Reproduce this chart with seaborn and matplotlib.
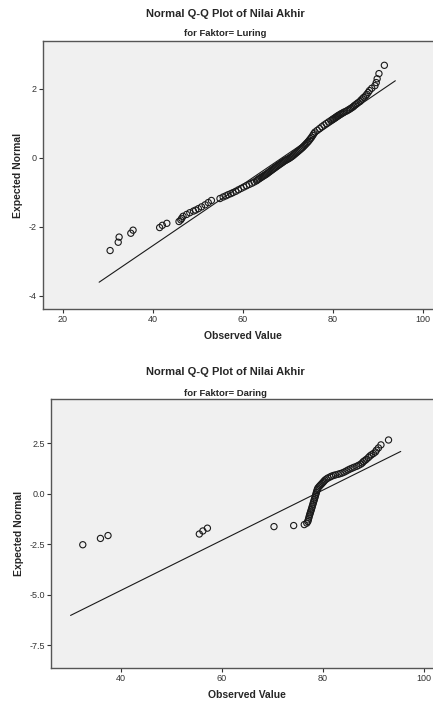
import matplotlib
matplotlib.use("Agg")
import matplotlib.pyplot as plt
import numpy as np
import pandas as pd
import seaborn as sns
from statistics import NormalDist

luring_scores = [30.5, 32.3, 32.5, 35.1, 35.6, 41.5, 42.1, 43.1, 45.8, 46.2,
                 46.4, 46.7, 47.5, 48.2, 49.0, 49.5, 50.1, 50.8, 51.6, 52.3,
                 53.0, 54.9, 55.6, 56.2, 56.7, 57.3, 57.8, 58.4, 59.0, 59.6,
                 60.2, 60.8, 61.4, 62.0, 62.5, 63.0,
                 63.25, 63.5, 63.75, 64.0, 64.25, 64.5, 64.75, 65.0, 65.25,
                 65.5, 65.75, 66.0, 66.25, 66.5, 66.75, 67.0, 67.25, 67.5, 67.75,
                 68.0, 68.25, 68.5, 68.75, 69.0, 69.25, 69.5, 69.75, 70.0, 70.25,
                 70.5, 70.75, 71.0, 71.25, 71.5, 71.75, 72.0, 72.25, 72.5, 72.75,
                 73.0, 73.25, 73.5, 73.75, 74.0, 74.25, 74.5, 74.75, 75.0, 75.25,
                 75.5, 75.75, 76.0,
                 76.5, 77.0, 77.5, 78.0, 78.5, 79.0, 79.5, 79.8,
                 80.0, 80.2, 80.4, 80.6, 80.8, 81.0, 81.2, 81.5, 81.7, 82.0,
                 82.3, 82.6, 83.0, 83.3, 83.6, 83.9, 84.2, 84.5, 84.7, 85.0,
                 85.3, 85.6, 86.0, 86.2, 86.5, 86.8, 87.2, 87.5, 87.8, 88.1,
                 88.6, 89.3, 89.6, 89.8, 90.2, 91.4]
luring_counts = [1, 1, 1, 1, 1, 1, 1, 1, 1, 1,
                 1, 2, 1, 2, 1, 1, 2, 2, 3, 3,
                 3, 3, 2, 2, 2, 2, 2, 3, 3, 3,
                 3, 3, 3, 3, 3, 3,
                 2, 2, 2, 2, 2, 2, 2, 2, 2,
                 3, 2, 3, 2, 3, 2, 3, 2, 3, 2,
                 3, 2, 3, 2, 3, 2, 2, 2, 2, 2,
                 3, 2, 3, 3, 3, 3, 3, 3, 3, 3,
                 3, 3, 4, 3, 4, 3, 4, 4, 4, 4,
                 5, 4, 4,
                 4, 4, 4, 3, 3, 3, 2, 1,
                 1, 1, 1, 1, 1, 1, 1, 1, 1, 1,
                 1, 1, 1, 1, 1, 1, 1, 1, 1, 1,
                 1, 1, 1, 1, 1, 1, 1, 1, 1, 1,
                 1, 1, 1, 1, 1, 1]

daring_scores = [32.4, 35.9, 37.4, 55.5, 56.2, 57.1, 70.3, 74.2, 76.3, 76.8,
                 77.0, 77.1, 77.2, 77.3, 77.4, 77.5, 77.6, 77.7, 77.8, 77.9,
                 78.0, 78.1, 78.2, 78.3, 78.4, 78.5, 78.6, 78.7, 78.8, 78.9,
                 79.0, 79.2, 79.4, 79.6, 79.8, 80.0, 80.2, 80.4, 80.7, 81.0,
                 81.4, 81.7, 82.1, 82.5, 83.0, 83.4, 83.8, 84.2, 84.6, 85.0,
                 85.4, 85.8, 86.2, 86.7, 87.1, 87.5, 87.8, 88.0, 88.3, 88.6,
                 89.0, 89.3, 89.6, 90.0, 90.4, 90.6, 91.0, 91.5, 93.0]
daring_counts = [2, 2, 1, 1, 4, 2, 2, 1, 2, 3,
                 3, 4, 5, 5, 5, 5, 6, 6, 7, 7,
                 8, 8, 8, 8, 9, 9, 9, 9, 8, 7,
                 6, 6, 5, 5, 5, 5, 5, 5, 4, 4,
                 3, 3, 2, 2, 2, 2, 2, 3, 3, 3,
                 2, 2, 2, 2, 2, 2, 2, 2, 1, 2,
                 2, 1, 1, 1, 1, 1, 1, 1, 1]


def qq_frame(scores, counts):
    # expected normal from mean ranks, r / (n + 1)
    counts = np.asarray(counts)
    n = counts.sum()
    before = np.concatenate([[0], np.cumsum(counts)[:-1]])
    ranks = before + (counts + 1) / 2
    z = [NormalDist().inv_cdf(r / (n + 1)) for r in ranks]
    return pd.DataFrame({"observed": scores, "expected": z})


def ref_line(scores, counts):
    values = np.repeat(scores, counts)
    mean, sd = values.mean(), values.std(ddof=1)
    lo, hi = values.min(), values.max()
    pad = 0.04 * (hi - lo)
    x = np.array([lo - pad, hi + pad])
    return pd.DataFrame({"observed": x, "expected": (x - mean) / sd})


sns.set_style("white")
plt.rcParams["font.family"] = ["Liberation Sans", "DejaVu Sans"]

W, H = 433, 702
fig = plt.figure(figsize=(W / 100, H / 100), dpi=100)


def panel(box, scores, counts, group, title_y, sub_y, xlim, ylim, xticks, yticks, yfmt):
    left, top, right, bottom = box
    ax = fig.add_axes([left / W, 1 - bottom / H, (right - left) / W, (bottom - top) / H])
    ax.set_facecolor("#f0f0f0")
    pts = qq_frame(scores, counts)
    line = ref_line(scores, counts)
    sns.lineplot(data=line, x="observed", y="expected", ax=ax, color="#1a1a1a", linewidth=0.8)
    sns.scatterplot(data=pts, x="observed", y="expected", ax=ax, s=20, facecolors="none",
                    edgecolor="#1a1a1a", linewidth=0.8, marker="o", zorder=3)
    ax.set_xlim(*xlim)
    ax.set_ylim(*ylim)
    ax.set_xticks(xticks)
    ax.set_yticks(yticks)
    ax.set_yticklabels([yfmt.format(v) for v in yticks])
    ax.tick_params(axis="both", which="major", direction="out", length=3, width=0.8,
                   labelsize=6.5, colors="#333333", pad=1.5, bottom=True, left=True)
    for side in ["left", "bottom", "top", "right"]:
        ax.spines[side].set_color("#555555")
        ax.spines[side].set_linewidth(1.0)
    ax.set_xlabel("Observed Value", fontsize=7.5, fontweight="bold", labelpad=5)
    ax.set_ylabel("Expected Normal", fontsize=7.5, fontweight="bold", labelpad=4)
    fig.text(225 / W, 1 - title_y / H, "Normal Q-Q Plot of Nilai Akhir", ha="center", va="center",
             fontsize=8, fontweight="bold")
    fig.text(225 / W, 1 - sub_y / H, "for Faktor= " + group, ha="center", va="center",
             fontsize=6.8, fontweight="bold")
    return ax


panel((43, 41, 442, 309), luring_scores, luring_counts, "Luring", 14, 33,
      (15.6, 104.2), (-4.38, 3.39), [20, 40, 60, 80, 100], [-4, -2, 0, 2], "{:.0f}")
panel((51, 399, 443, 668), daring_scores, daring_counts, "Daring", 372, 393,
      (26.1, 103.8), (-8.64, 4.7), [40, 60, 80, 100], [-7.5, -5.0, -2.5, 0.0, 2.5], "{:.1f}")

fig.savefig("out.png", dpi=100)
